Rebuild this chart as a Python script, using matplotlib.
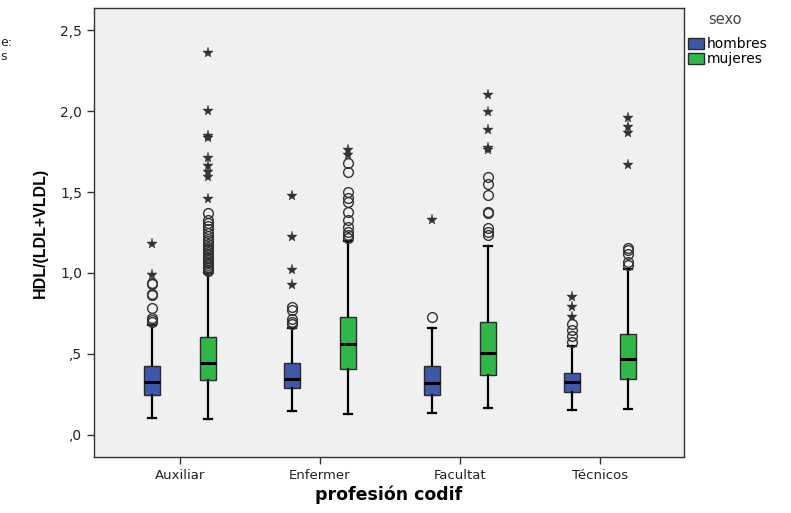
import matplotlib
matplotlib.use("Agg")
import matplotlib.pyplot as plt
from matplotlib.patches import Patch

groups = ['Auxiliar', 'Enfermer', 'Facultat', 'Técnicos']
series = ['hombres', 'mujeres']

hombres_lo = [0.103, 0.148, 0.134, 0.154]
hombres_q1 = [0.247, 0.288, 0.247, 0.263]
hombres_med = [0.325, 0.346, 0.323, 0.329]
hombres_q3 = [0.426, 0.446, 0.426, 0.381]
hombres_hi = [0.68, 0.66, 0.66, 0.549]
hombres_circ = [[0.70, 0.71, 0.72, 0.786, 0.864, 0.87, 0.93, 0.94],
                [0.685, 0.70, 0.714, 0.77, 0.79],
                [0.726],
                [0.576, 0.611, 0.648, 0.685]]
hombres_star = [[0.99, 1.18],
                [0.926, 1.018, 1.224, 1.477],
                [1.327],
                [0.73, 0.788, 0.85]]

mujeres_lo = [0.097, 0.13, 0.169, 0.158]
mujeres_q1 = [0.34, 0.405, 0.37, 0.344]
mujeres_med = [0.446, 0.56, 0.504, 0.469]
mujeres_q3 = [0.603, 0.726, 0.696, 0.621]
mujeres_hi = [1.0, 1.2, 1.167, 1.023]
mujeres_circ = [[1.01, 1.02, 1.03, 1.04, 1.05, 1.06, 1.07, 1.08, 1.09, 1.10, 1.11, 1.12,
                 1.13, 1.14, 1.15, 1.16, 1.18, 1.20, 1.21, 1.23, 1.25, 1.27, 1.29, 1.31,
                 1.33, 1.368],
                [1.214, 1.235, 1.255, 1.286, 1.327, 1.378, 1.44, 1.46, 1.50, 1.625, 1.677],
                [1.235, 1.255, 1.275, 1.368, 1.378, 1.481, 1.55, 1.595],
                [1.05, 1.07, 1.12, 1.142, 1.152]]
mujeres_star = [[1.455, 1.595, 1.625, 1.66, 1.71, 1.835, 1.845, 2.0, 2.36],
                [1.73, 1.76],
                [1.76, 1.77, 1.883, 1.996, 2.099],
                [1.667, 1.862, 1.9, 1.955]]

ytick_vals = [0.0, 0.5, 1.0, 1.5, 2.0, 2.5]
ytick_labels = [',0', ',5', '1,0', '1,5', '2,0', '2,5']

colors = {'hombres': '#3E58AC', 'mujeres': '#2EB848'}
offsets = {'hombres': -0.2, 'mujeres': 0.2}
data = {
    'hombres': (hombres_lo, hombres_q1, hombres_med, hombres_q3, hombres_hi, hombres_circ, hombres_star),
    'mujeres': (mujeres_lo, mujeres_q1, mujeres_med, mujeres_q3, mujeres_hi, mujeres_circ, mujeres_star),
}

plt.rcParams['font.family'] = ['DejaVu Sans']

fig = plt.figure(figsize=(7.91, 5.13), dpi=100)
fig.patch.set_facecolor('white')
ax = fig.add_axes([94/791, 1 - 457/513, (684 - 94)/791, (457 - 8)/513])
ax.set_facecolor('#F0F0F0')

for s in series:
    lo, q1, med, q3, hi, circ, star = data[s]
    stats = []
    for i in range(len(groups)):
        stats.append(dict(whislo=lo[i], q1=q1[i], med=med[i], q3=q3[i], whishi=hi[i],
                          fliers=circ[i]))
    pos = [i + offsets[s] for i in range(len(groups))]
    ax.bxp(stats, positions=pos, widths=0.115, patch_artist=True, showfliers=True,
           boxprops=dict(facecolor=colors[s], edgecolor='#2a2a2a', linewidth=1.0),
           medianprops=dict(color='black', linewidth=2.2),
           whiskerprops=dict(color='black', linewidth=1.6),
           capprops=dict(color='black', linewidth=1.6),
           capwidths=0.06,
           flierprops=dict(marker='o', markerfacecolor='none', markeredgecolor='#333333',
                           markersize=7, markeredgewidth=1.0, linestyle='none'),
           manage_ticks=False, zorder=3)
    for i in range(len(groups)):
        ax.plot([pos[i]] * len(star[i]), star[i], linestyle='none', marker='*',
                markersize=8, markerfacecolor='#333333', markeredgecolor='#333333',
                markeredgewidth=0.3, zorder=4)

ax.set_xlim(-0.614, 3.6)
ax.set_ylim(-0.136, 2.636)
ax.set_xticks(range(len(groups)))
ax.set_xticklabels(groups, fontsize=9.5, color='#222222')
ax.set_yticks(ytick_vals)
ax.set_yticklabels(ytick_labels, fontsize=10, color='#222222')
ax.tick_params(axis='both', direction='out', length=5, width=1, color='#333333')
for sp in ax.spines.values():
    sp.set_color('#333333')
    sp.set_linewidth(1.0)

ax.set_xlabel('profesión codif', fontsize=12.5, fontweight='bold', labelpad=3)
ax.set_ylabel('HDL/(LDL+VLDL)', fontsize=11.5, fontweight='bold',
              family=['Liberation Sans', 'DejaVu Sans'], labelpad=9)

handles = [Patch(facecolor=colors[s], edgecolor='#2a2a2a', label=s) for s in series]
leg = fig.legend(handles=handles, loc='upper left',
                 bbox_to_anchor=(687/791, 1 - 36/513), frameon=False, fontsize=10,
                 handlelength=1.1, handleheight=0.85,
                 handletextpad=0.2, labelspacing=0.05, borderaxespad=0, borderpad=0.1)
fig.text(725/791, 1 - 20/513, 'sexo', fontsize=10.5, ha='center', va='center', color='#444444')

fig.text(0.5/791, 1 - 43/513, 'e:', fontsize=9, ha='left', va='center', color='#222222')
fig.text(0.5/791, 1 - 57/513, 's', fontsize=9, ha='left', va='center', color='#222222')

fig.savefig('out.png', dpi=100)
